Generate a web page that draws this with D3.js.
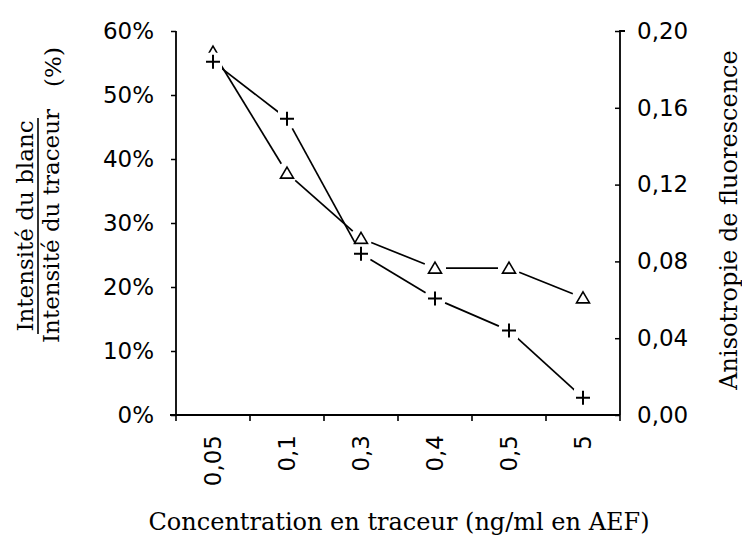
<!DOCTYPE html>
<html>
<head>
<meta charset="utf-8">
<script src="https://cdn.jsdelivr.net/npm/d3@7"></script>
<style>
  html, body { margin: 0; padding: 0; background: #fff; }
  svg { display: block; }
</style>
</head>
<body>
<svg id="chart" width="742" height="540"></svg>
<script>
// Tracer concentrations (ng/ml in AEF)
const concentrations = ["0,05", "0,1", "0,3", "0,4", "0,5", "5"];
// Blank intensity / tracer intensity (left axis, fraction)
const blankRatio = [0.552, 0.463, 0.252, 0.182, 0.132, 0.027];
// Fluorescence anisotropy (right axis)
const anisotropy = [0.189, 0.126, 0.092, 0.0765, 0.0765, 0.061];
// Axis tick values
const leftTicks = [0, 0.1, 0.2, 0.3, 0.4, 0.5, 0.6];
const rightTicks = [0, 0.04, 0.08, 0.12, 0.16, 0.20];

const svg = d3.select("#chart");
const L = 176, R = 620, T = 31, B = 415;
const sansFont = "'DejaVu Sans', sans-serif";
const serifFont = "'DejaVu Serif', serif";

const x = d3.scaleBand().domain(concentrations).range([L, R]).padding(0);
const yL = d3.scaleLinear().domain([0, 0.6]).range([B, T]);
const yR = d3.scaleLinear().domain([0, 0.2]).range([B, T]);

// Left axis
const gL = svg.append("g").attr("transform", `translate(${L},0)`)
  .call(d3.axisLeft(yL).tickValues(leftTicks).tickSize(5).tickPadding(17)
    .tickFormat(d => Math.round(d * 100) + "%"));
// Right axis (ticks pointing inward)
const gR = svg.append("g").attr("transform", `translate(${R},0)`)
  .call(d3.axisRight(yR).tickValues(rightTicks).tickSize(-5).tickPadding(17)
    .tickFormat(d => d3.format(".2f")(d).replace(".", ",")));
// Bottom axis: labels at band centres, ticks at band boundaries
const gB = svg.append("g").attr("transform", `translate(0,${B})`)
  .call(d3.axisBottom(x).tickSize(0).tickPadding(0));
gB.selectAll(".tick text")
  .attr("transform", "rotate(-90)")
  .attr("text-anchor", "end")
  .attr("x", -20).attr("y", 0).attr("dy", "0.36em");
const edges = concentrations.map(c => x(c)).concat([x.range()[1]]);
gB.selectAll("line.edge").data(edges).join("line")
  .attr("class", "edge")
  .attr("x1", d => d).attr("x2", d => d)
  .attr("y1", 0).attr("y2", 6)
  .attr("stroke", "#000").attr("stroke-width", 1.6);

[gL, gR, gB].forEach(g => {
  g.selectAll(".domain").attr("stroke", "#000").attr("stroke-width", 1.8);
  g.selectAll(".tick line").attr("stroke", "#000").attr("stroke-width", 1.5);
  g.selectAll(".tick text").attr("fill", "#000")
    .style("font-family", sansFont).style("font-size", "23px");
});
gL.select(".domain").attr("d", `M0,${T}V${B}`);
gR.select(".domain").attr("d", `M5,${T}H0V${B}`);
gB.select(".domain").attr("d", `M${L - 6},0H${R}`);

// Series lines, drawn as segments stopping short of each marker
function segments(values, yScale, gap) {
  const pts = values.map((v, i) => [x(concentrations[i]) + x.bandwidth() / 2, yScale(v)]);
  const segs = [];
  for (let i = 0; i < pts.length - 1; i++) {
    const [x1, y1] = pts[i], [x2, y2] = pts[i + 1];
    const len = Math.hypot(x2 - x1, y2 - y1);
    const ux = (x2 - x1) / len, uy = (y2 - y1) / len;
    segs.push([x1 + ux * gap, y1 + uy * gap, x2 - ux * gap, y2 - uy * gap]);
  }
  return { pts, segs };
}
const plus = segments(blankRatio, yL, 11);
const tri = segments(anisotropy, yR, 11);

const lines = svg.append("g").attr("stroke", "#000").attr("stroke-width", 1.7).attr("fill", "none");
lines.selectAll("line.p").data(plus.segs).join("line").attr("class", "p")
  .attr("x1", d => d[0]).attr("y1", d => d[1]).attr("x2", d => d[2]).attr("y2", d => d[3]);
lines.selectAll("line.t").data(tri.segs).join("line").attr("class", "t")
  .attr("x1", d => d[0]).attr("y1", d => d[1]).attr("x2", d => d[2]).attr("y2", d => d[3]);

// Triangle markers
svg.append("g").selectAll("path").data(tri.pts).join("path")
  .attr("d", d => `M${d[0]},${d[1] - 6}L${d[0] + 6.5},${d[1] + 5}L${d[0] - 6.5},${d[1] + 5}Z`)
  .attr("fill", "#fff").attr("stroke", "#000").attr("stroke-width", 1.6);
// Plus markers on a white knockout
const plusG = svg.append("g");
plusG.selectAll("rect").data(plus.pts).join("rect")
  .attr("x", d => d[0] - 9).attr("y", d => d[1] - 9)
  .attr("width", 18).attr("height", 18).attr("fill", "#fff");
plusG.selectAll("path").data(plus.pts).join("path")
  .attr("d", d => `M${d[0] - 7},${d[1]}H${d[0] + 7}M${d[0]},${d[1] - 7}V${d[1] + 7}`)
  .attr("stroke", "#000").attr("stroke-width", 2);

// Axis titles
svg.append("text")
  .attr("x", 399).attr("y", 530)
  .attr("text-anchor", "middle")
  .style("font-family", serifFont).style("font-size", "24px")
  .text("Concentration en traceur (ng/ml en AEF)");

svg.append("text")
  .attr("transform", "translate(737,220) rotate(-90)")
  .attr("text-anchor", "middle")
  .style("font-family", serifFont).style("font-size", "24px")
  .text("Anisotropie de fluorescence");

const frac = svg.append("g").attr("transform", "translate(0,226) rotate(-90)")
  .style("font-family", serifFont).style("font-size", "23px");
frac.append("text").attr("x", 0).attr("y", 33).attr("text-anchor", "middle")
  .text("Intensité du blanc");
frac.append("line").attr("x1", -108).attr("x2", 108).attr("y1", 38).attr("y2", 38)
  .attr("stroke", "#000").attr("stroke-width", 1.6);
frac.append("text").attr("x", 0).attr("y", 59).attr("text-anchor", "middle")
  .text("Intensité du traceur");
svg.append("text")
  .attr("transform", "translate(61,67) rotate(-90)")
  .attr("text-anchor", "middle")
  .style("font-family", serifFont).style("font-size", "23px")
  .text("(%)");
</script>
</body>
</html>
